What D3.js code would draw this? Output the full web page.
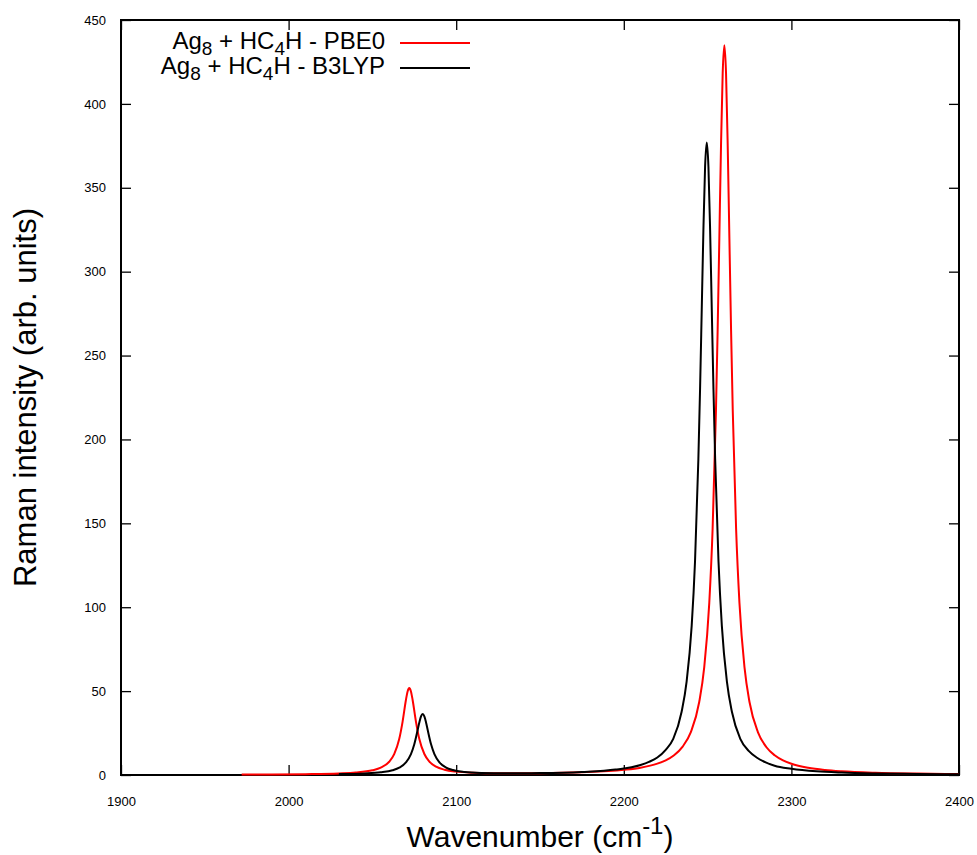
<!DOCTYPE html>
<html>
<head>
<meta charset="utf-8">
<script src="https://cdn.jsdelivr.net/npm/d3@7"></script>
<style>
  body { margin: 0; background: #fff; }
  svg { display: block; font-family: "Liberation Sans", Arial, Helvetica, sans-serif; }
</style>
</head>
<body>
<svg id="chart" width="977" height="855"></svg>
<script>
// spectrum (wavenumber, intensity)
var pbe0X = [1972, 1990, 2010, 2030, 2040, 2050, 2055, 2060, 2063, 2066, 2068, 2070, 2071, 2072, 2073, 2074, 2076, 2078, 2081, 2084, 2088, 2093, 2100, 2110, 2125, 2150, 2175, 2200, 2210, 2220, 2225, 2230, 2235, 2240, 2245, 2248, 2251, 2253, 2255, 2256, 2257, 2258, 2259, 2260, 2261, 2262, 2263, 2264, 2265, 2267, 2269, 2272, 2275, 2280, 2285, 2290, 2295, 2300, 2310, 2320, 2330, 2350, 2375, 2400];
var pbe0Y = [0.26, 0.34, 0.51, 0.93, 1.45, 2.78, 4.36, 7.89, 12.4, 21.4, 31.7, 44.7, 49.8, 51.8, 49.8, 44.7, 31.7, 21.4, 12.5, 8.0, 4.95, 3.15, 2.01, 1.36, 1.05, 1.11, 1.62, 3.08, 4.35, 6.75, 8.75, 11.8, 16.8, 25.6, 43.5, 64.3, 102.6, 146.9, 217.5, 265.3, 319.9, 375.0, 418.3, 435.0, 418.3, 375.0, 319.9, 265.3, 217.5, 146.9, 102.6, 64.3, 43.5, 25.6, 16.7, 11.75, 8.7, 6.69, 4.31, 3.0, 2.21, 1.34, 0.82, 0.55];

var b3lypX = [2030, 2045, 2055, 2062, 2066, 2070, 2073, 2075, 2077, 2078, 2079, 2080, 2081, 2082, 2083, 2085, 2087, 2090, 2094, 2098, 2105, 2115, 2130, 2150, 2175, 2195, 2210, 2215, 2220, 2225, 2229.5, 2234.5, 2237.5, 2240.5, 2242.5, 2244.5, 2245.5, 2246.5, 2247.5, 2248.5, 2249.5, 2250.5, 2251.5, 2252.5, 2253.5, 2254.5, 2256.5, 2258.5, 2261.5, 2264.5, 2269.5, 2274.5, 2279.5, 2285, 2290, 2300, 2315, 2330, 2350, 2375, 2400];
var b3lypY = [0.55, 0.95, 1.64, 2.84, 4.34, 7.48, 12.45, 18.3, 26.8, 31.3, 34.9, 36.3, 34.9, 31.35, 26.8, 18.3, 12.5, 7.55, 4.46, 2.99, 1.84, 1.24, 1.02, 1.13, 1.79, 3.22, 6.0, 7.8, 10.4, 15.0, 21.5, 37.7, 55.8, 88.9, 127.4, 188.5, 229.9, 277.2, 325.0, 362.5, 377.0, 362.5, 325.0, 277.2, 229.9, 188.5, 127.4, 88.9, 55.8, 37.7, 21.5, 14.4, 10.3, 7.4, 5.5, 3.7, 2.18, 1.45, 0.93, 0.60, 0.42];

var xTicks = [1900, 2000, 2100, 2200, 2300, 2400];
var yTicks = [0, 50, 100, 150, 200, 250, 300, 350, 400, 450];

// plot frame (window.top is read-only, so keep these names local)
var frame = {l: 121, r: 959, t: 20, b: 775};

var svg = d3.select('#chart');

var x = d3.scaleLinear().domain([1900, 2400]).range([frame.l, frame.r]);
var y = d3.scaleLinear().domain([0, 450]).range([frame.b, frame.t]);
var fmt = d3.format('d');

// axes, ticks pointing inward on all four sides
svg.append('g')
    .attr('transform', 'translate(0,' + frame.b + ')')
    .call(d3.axisBottom(x).tickValues(xTicks).tickFormat(fmt).tickSize(-10).tickSizeOuter(0).tickPadding(22))
    .call(g => g.select('.domain').remove());

svg.append('g')
    .attr('transform', 'translate(' + frame.l + ',0)')
    .call(d3.axisLeft(y).tickValues(yTicks).tickFormat(fmt).tickSize(-10).tickSizeOuter(0).tickPadding(15))
    .call(g => g.select('.domain').remove());

svg.append('g')
    .attr('transform', 'translate(0,' + frame.t + ')')
    .call(d3.axisTop(x).tickValues(xTicks).tickSize(-10).tickSizeOuter(0).tickFormat(''))
    .call(g => g.select('.domain').remove());

svg.append('g')
    .attr('transform', 'translate(' + frame.r + ',0)')
    .call(d3.axisRight(y).tickValues(yTicks).tickSize(-10).tickSizeOuter(0).tickFormat(''))
    .call(g => g.select('.domain').remove());

svg.selectAll('.tick line').style('stroke', '#000').style('stroke-width', 1.3);
svg.selectAll('.tick text').style('font-size', '13px').style('fill', '#000')
    .style('font-family', '"Liberation Sans", Arial, sans-serif');

svg.append('rect')
    .attr('x', frame.l).attr('y', frame.t)
    .attr('width', frame.r - frame.l).attr('height', frame.b - frame.t)
    .style('fill', 'none').style('stroke', '#000').style('stroke-width', 2);

// curves
var line = d3.line()
    .x(d => x(d[0]))
    .y(d => y(d[1]))
    .curve(d3.curveMonotoneX);

svg.append('path')
    .datum(d3.zip(pbe0X, pbe0Y))
    .attr('d', line)
    .style('fill', 'none').style('stroke', '#ff0000').style('stroke-width', 2);

svg.append('path')
    .datum(d3.zip(b3lypX, b3lypY))
    .attr('d', line)
    .style('fill', 'none').style('stroke', '#000').style('stroke-width', 2);

// legend
var legend = [
    {method: 'PBE0', color: '#ff0000', row: 0},
    {method: 'B3LYP', color: '#000', row: 1}
];

legend.forEach(function (l) {
    var base = 49 + l.row * 25;
    var t = svg.append('text')
        .attr('x', 385).attr('y', base)
        .attr('text-anchor', 'end')
        .style('font-size', '24px');
    t.append('tspan').text('Ag');
    t.append('tspan').attr('dy', 6).style('font-size', '19px').text('8');
    t.append('tspan').attr('dy', -6).text(' + HC');
    t.append('tspan').attr('dy', 6).style('font-size', '19px').text('4');
    t.append('tspan').attr('dy', -6).text('H - ' + l.method);

    svg.append('line')
        .attr('x1', 400).attr('x2', 470)
        .attr('y1', base - 6).attr('y2', base - 6)
        .style('stroke', l.color).style('stroke-width', 2);
});

// axis titles
var xt = svg.append('text')
    .attr('x', (frame.l + frame.r) / 2).attr('y', 847)
    .attr('text-anchor', 'middle')
    .style('font-size', '30px');
xt.append('tspan').text('Wavenumber (cm');
xt.append('tspan').attr('dy', -13).style('font-size', '24px').text('-1');
xt.append('tspan').attr('dy', 13).text(')');

svg.append('text')
    .attr('transform', 'translate(36,' + ((frame.t + frame.b) / 2) + ') rotate(-90)')
    .attr('text-anchor', 'middle')
    .style('font-size', '31px')
    .text('Raman intensity (arb. units)');
</script>
</body>
</html>
